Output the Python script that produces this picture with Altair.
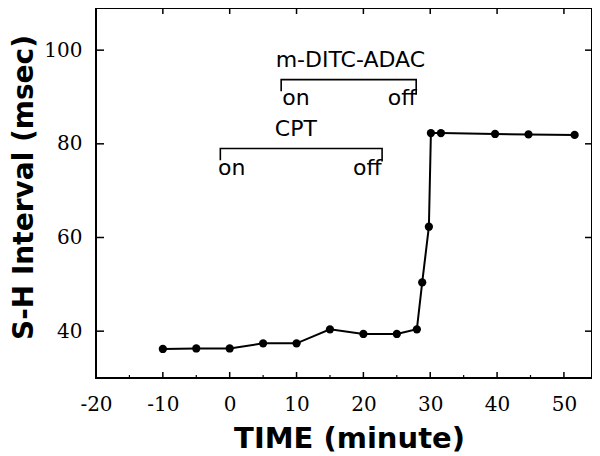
import altair as alt
import pandas as pd

# ---- data ----
time_min = [-10, -5, 0, 5, 10, 15, 20, 25, 28, 28.8, 29.8, 30.1, 31.6, 39.7, 44.7, 51.6]
sh_interval = [36.2, 36.3, 36.3, 37.4, 37.4, 40.4, 39.4, 39.4, 40.4, 50.4, 62.3, 82.3, 82.3, 82.1, 82.0, 81.9]

# brackets: (name, x_left, x_right, y_top, y_left_end, y_right_end)
bracket_names = ["m-DITC-ADAC", "CPT"]
bracket_x_left = [7.7, -1.4]
bracket_x_right = [27.9, 22.8]
bracket_y_top = [93.7, 79.0]
bracket_y_left_end = [91.2, 76.5]
bracket_y_right_end = [90.5, 76.2]

ann_text = ["m-DITC-ADAC", "on", "off", "CPT", "on", "off"]
ann_x = [18.05, 9.9, 25.8, 9.9, 0.3, 20.6]
ann_y = [96.4, 88.3, 88.3, 81.6, 73.3, 73.3]

x_major = [-10, 0, 10, 20, 30, 40, 50]
x_minor = [-15, -5, 5, 15, 25, 35, 45]
y_major = [40, 60, 80, 100]
x_labels = [-20, -10, 0, 10, 20, 30, 40, 50]

X_DOMAIN = [-20, 54.2]
Y_DOMAIN = [30, 109]
W, H = 496, 370

df = pd.DataFrame({"t": time_min, "v": sh_interval})

rows = []
for i, n in enumerate(bracket_names):
    rows += [
        {"b": n, "o": 0, "x": bracket_x_left[i], "y": bracket_y_left_end[i]},
        {"b": n, "o": 1, "x": bracket_x_left[i], "y": bracket_y_top[i]},
        {"b": n, "o": 2, "x": bracket_x_right[i], "y": bracket_y_top[i]},
        {"b": n, "o": 3, "x": bracket_x_right[i], "y": bracket_y_right_end[i]},
    ]
bdf = pd.DataFrame(rows)
adf = pd.DataFrame({"label": ann_text, "x": ann_x, "y": ann_y})

xscale = alt.Scale(domain=X_DOMAIN, nice=False, zero=False)
yscale = alt.Scale(domain=Y_DOMAIN, nice=False, zero=False)

xaxis = alt.Axis(
    values=x_labels, ticks=False, domain=False, grid=False,
    labelExpr="'' + datum.value",
    labelFont="DejaVu Serif", labelFontSize=20, labelColor="black", labelPadding=16,
    labelFlush=False, labelOverlap=False,
    title="TIME (minute)", titleFont="DejaVu Sans", titleFontWeight="bold",
    titleFontSize=29, titleColor="black", titleX=253, titleY=60, titleBaseline="middle",
    titleAlign="center",
)
yaxis = alt.Axis(
    values=y_major, ticks=False, domain=False, grid=False,
    labelExpr="'' + datum.value",
    labelFont="DejaVu Serif", labelFontSize=20, labelColor="black", labelPadding=14,
    labelFlush=False, labelOverlap=False,
    title="S-H Interval (msec)", titleFont="DejaVu Sans", titleFontWeight="bold",
    titleFontSize=28, titleColor="black", titleX=-72, titleY=179, titleAngle=270,
    titleBaseline="middle", titleAlign="center",
)

line = alt.Chart(df).mark_line(color="black", strokeWidth=2).encode(
    x=alt.X("t:Q", scale=xscale, axis=xaxis),
    y=alt.Y("v:Q", scale=yscale, axis=yaxis),
)
pts = alt.Chart(df).mark_circle(color="black", opacity=1, size=68).encode(
    x=alt.X("t:Q", scale=xscale),
    y=alt.Y("v:Q", scale=yscale),
)
brackets = alt.Chart(bdf).mark_line(color="black", strokeWidth=1.6).encode(
    x=alt.X("x:Q", scale=xscale),
    y=alt.Y("y:Q", scale=yscale),
    detail="b:N",
    order="o:Q",
)
texts = alt.Chart(adf).mark_text(
    font="DejaVu Sans", fontSize=22, color="black", align="center", baseline="alphabetic"
).encode(
    x=alt.X("x:Q", scale=xscale),
    y=alt.Y("y:Q", scale=yscale),
    text="label:N",
)

# inward tick marks
bmaj = alt.Chart(pd.DataFrame({"t": x_major})).mark_rule(color="black", strokeWidth=1.5).encode(
    x=alt.X("t:Q", scale=xscale), y=alt.value(H), y2=alt.value(H - 6))
bmin = alt.Chart(pd.DataFrame({"t": x_minor})).mark_rule(color="black", strokeWidth=1.2).encode(
    x=alt.X("t:Q", scale=xscale), y=alt.value(H), y2=alt.value(H - 3))
tmaj = alt.Chart(pd.DataFrame({"t": x_major})).mark_rule(color="black", strokeWidth=1.5).encode(
    x=alt.X("t:Q", scale=xscale), y=alt.value(0), y2=alt.value(6))
lmaj = alt.Chart(pd.DataFrame({"v": y_major})).mark_rule(color="black", strokeWidth=1.5).encode(
    y=alt.Y("v:Q", scale=yscale), x=alt.value(0), x2=alt.value(8))
rmaj = alt.Chart(pd.DataFrame({"v": y_major})).mark_rule(color="black", strokeWidth=1.5).encode(
    y=alt.Y("v:Q", scale=yscale), x=alt.value(W), x2=alt.value(W - 7))

chart = alt.layer(line, pts, brackets, texts, bmaj, bmin, tmaj, lmaj, rmaj).properties(
    width=W, height=H,
    background="white",
    autosize=alt.AutoSizeParams(type="none"),
    padding={"left": 88, "top": 0, "right": 0, "bottom": 78},
).configure_view(stroke="black", strokeWidth=2)

chart.save("out.html", embed_options={"renderer": "svg", "actions": False})
